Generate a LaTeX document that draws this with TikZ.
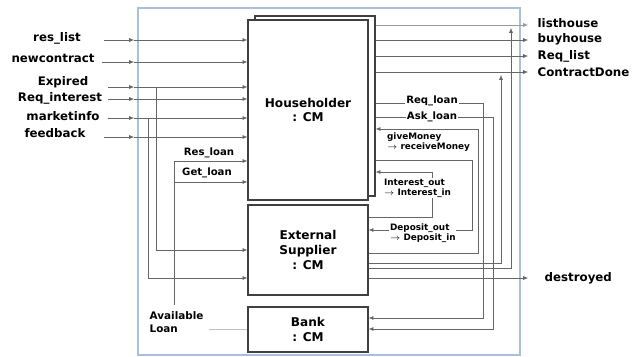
\documentclass[tikz,border=0pt]{standalone}
\usepackage{fontspec}
\setmainfont{DejaVu Sans}
\usepackage{xcolor}
\usepackage{tikz}
\usetikzlibrary{arrows.meta, positioning, calc}

\definecolor{framecol}{HTML}{A9C0DC}

\begin{document}
\begin{tikzpicture}[
    x=0.025cm, y=-0.025cm,
    cmbox/.style={rectangle, draw=black!75, line width=0.9pt, fill=white, align=center, inner sep=0pt, font=\fontsize{8.6}{10.6}\selectfont\bfseries},
    wire/.style={draw=black!60, line width=0.4pt},
    arrow/.style={wire, -{Latex[length=1.2mm, width=1mm]}},
    port/.style={font=\fontsize{8.4}{10}\selectfont\bfseries, inner sep=1pt},
    inlabel/.style={font=\fontsize{7.2}{8.6}\selectfont\bfseries, fill=white, inner sep=1pt},
    looplabel/.style={font=\fontsize{6.3}{7.2}\selectfont\bfseries, fill=white, inner sep=0.6pt, align=left}
]
\useasboundingbox (0,0) rectangle (642,356);

% Coupled model frame
\draw[framecol, line width=1.1pt] (138,8) rectangle (520,355);

% Components
\node[cmbox, minimum width=3cm, minimum height=4.5cm] (hhback) at (315,106) {};
\node[cmbox, minimum width=3cm, minimum height=4.5cm] (hh) at (308,110) {Householder\\: CM};
\node[cmbox, minimum width=3cm, minimum height=2.25cm] (es) at (308,250) {External\\Supplier\\: CM};
\node[cmbox, minimum width=3cm, minimum height=1.125cm] (bank) at (308,329.5) {Bank\\: CM};

% Inputs from the left
\node[port] (reslist) at (57,38) {res\_list};
\node[port] (newcon) at (53,58) {newcontract};
\node[port] (expired) at (63,82) {Expired};
\node[port] (reqint) at (60,98) {Req\_interest};
\node[port] (market) at (63,116) {marketinfo};
\node[port] (feedback) at (55,133) {feedback};

\coordinate (reslistS) at (104,40);   \coordinate (reslistP) at (134,40);
\coordinate (newconS) at (102,62);    \coordinate (newconP) at (134,62);
\coordinate (expiredS) at (108,87);   \coordinate (expiredP) at (134,87);
\coordinate (reqintS) at (108,99);    \coordinate (reqintP) at (134,99);
\coordinate (marketS) at (108,118);   \coordinate (marketP) at (134,118);
\coordinate (feedbackS) at (104,137); \coordinate (feedbackP) at (134,137);

\draw[arrow] (reslistS) -- (reslistP);
\draw[arrow] (reslistP) -- (reslistP -| hh.west);
\draw[arrow] (newconS) -- (newconP);
\draw[arrow] (newconP) -- (newconP -| hh.west);
\draw[arrow] (expiredS) -- (expiredP);
\draw[arrow] (expiredP) -- (expiredP -| hh.west);
\draw[arrow] (reqintS) -- (reqintP);
\draw[arrow] (reqintP) -- (reqintP -| hh.west);
\draw[arrow] (marketS) -- (marketP);
\draw[arrow] (marketP) -- (marketP -| hh.west);
\draw[arrow] (feedbackS) -- (feedbackP);
\draw[arrow] (feedbackP) -- (feedbackP -| hh.west);

% Branches to the supplier
\coordinate (expB) at (156,87);  \coordinate (expT) at (156,250);
\coordinate (mktB) at (148,118); \coordinate (mktT) at (148,278);
\draw[arrow] (expB) -- (expT) -- (expT -| es.west);
\draw[arrow] (mktB) -- (mktT) -- (mktT -| es.west);

% Available loan
\node[port, align=left, anchor=west, font=\fontsize{7.4}{8.8}\selectfont\bfseries] (avail) at (148,322) {Available\\Loan};
\coordinate (alB) at (174,305); \coordinate (alT) at (174,161); \coordinate (alG) at (174,182);
\draw[arrow] (alB) -- (alT) -- (alT -| hh.west);
\draw[arrow] (alG) -- (alG -| hh.west);
\draw[wire, draw=black!25, line width=0.6pt] ($(avail.east |- bank.west)+(4,0)$) -- (bank.west);
\node[inlabel, fill=none] (resloan) at (209,153) {Res\_loan};
\node[inlabel, fill=none] (getloan) at (207,173) {Get\_loan};

% Outputs to the right
\coordinate (lhP) at (528,25);
\coordinate (bhP) at (528,40);
\coordinate (rlP) at (528,56);
\coordinate (cdP) at (528,72);
\coordinate (dsP) at (528,278);
\draw[arrow, draw=black!40] (lhP -| hhback.east) -- (lhP);
\draw[arrow] (bhP -| hhback.east) -- (bhP);
\draw[arrow] (rlP -| hhback.east) -- (rlP);
\draw[arrow] (cdP -| hhback.east) -- (cdP);
\draw[arrow] (dsP -| es.east) -- (dsP);
\node[port, anchor=west] (listhouse) at (536,23) {listhouse};
\node[port, anchor=west] (buyhouse) at (536,39) {buyhouse};
\node[port, anchor=west] (reqlist) at (536,56) {Req\_list};
\node[port, anchor=west] (contract) at (536,72) {ContractDone};
\node[port, anchor=west] (destroyed) at (543,278) {destroyed};

% Supplier feeds listhouse and ContractDone
\coordinate (lhA) at (511,268); \coordinate (lhB) at (511,28);
\coordinate (cdA) at (501,263); \coordinate (cdB) at (501,75);
\draw[arrow] (lhA -| es.east) -- (lhA) -- (lhB);
\draw[arrow] (cdA -| es.east) -- (cdA) -- (cdB);

% Loan requests to the bank
\coordinate (rqA) at (483,103); \coordinate (rqB) at (483,318);
\coordinate (akA) at (493,117); \coordinate (akB) at (493,329);
\draw[arrow] (rqA -| hhback.east) -- (rqA) -- (rqB) -- (rqB -| bank.east);
\draw[arrow] (akA -| hhback.east) -- (akA) -- (akB) -- (akB -| bank.east);
\node[inlabel] (reqloan) at (432,101) {Req\_loan};
\node[inlabel] (askloan) at (432,117) {Ask\_loan};

% Internal couplings
\coordinate (gmA) at (478,253); \coordinate (gmB) at (478,129);
\draw[arrow] (gmA -| es.east) -- (gmA) -- (gmB) -- (gmB -| hhback.east);
\coordinate (dpA) at (472,160); \coordinate (dpB) at (472,230);
\draw[arrow] (dpA -| hhback.east) -- (dpA) -- (dpB) -- (dpB -| es.east);
\coordinate (itA) at (432,217); \coordinate (itB) at (432,172);
\draw[arrow] (itA -| es.east) -- (itA) -- (itB) -- (itB -| hhback.east);
\node[looplabel, anchor=west] (givemoney) at (386,142) {giveMoney\\$\rightarrow$ receiveMoney};
\node[looplabel, anchor=west] (interest) at (383,188) {Interest\_out\\ $\rightarrow$ Interest\_in};
\node[looplabel, anchor=west] (deposit) at (389,233) {Deposit\_out\\ $\rightarrow$ Deposit\_in};
\end{tikzpicture}
\end{document}
